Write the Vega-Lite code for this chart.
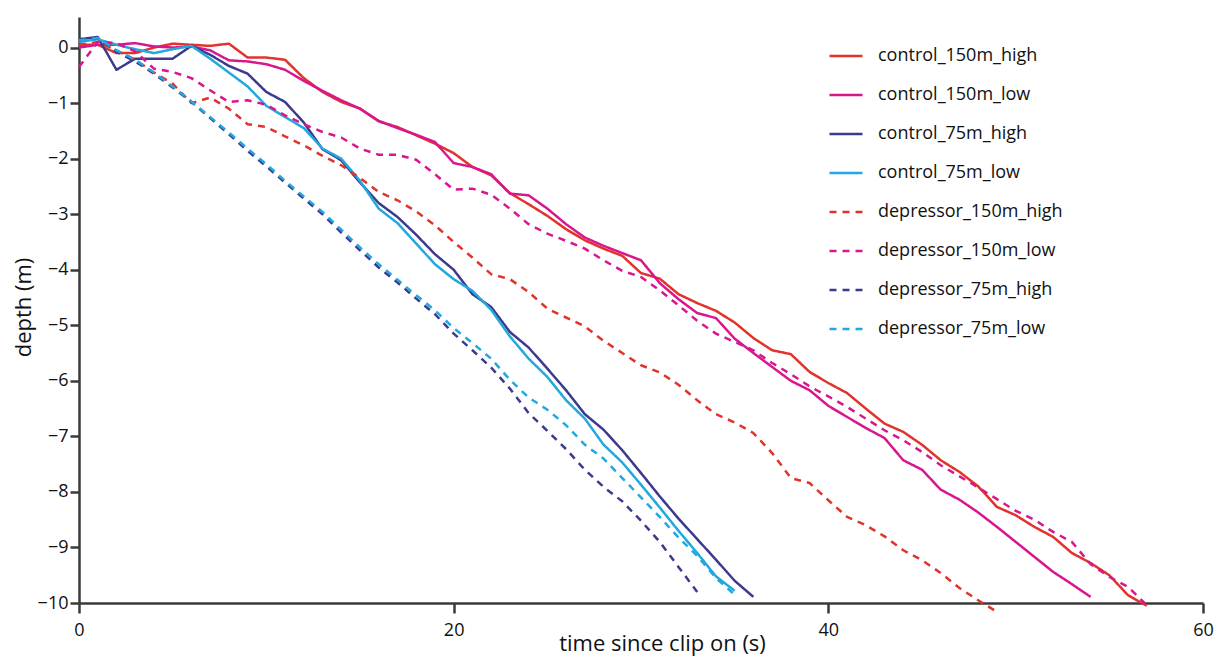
{
  "$schema": "https://vega.github.io/schema/vega-lite/v6.json",
  "width": 1124,
  "height": 586,
  "autosize": {"type": "none"},
  "padding": {"left": 79, "top": 17, "right": 12, "bottom": 54},
  "background": "white",
  "config": {
    "view": {"stroke": null},
    "font": "Open Sans",
    "axis": {"domainColor": "#3a3a3a", "domainWidth": 2.5, "tickColor": "#3a3a3a", "tickWidth": 2.5, "grid": false, "labelColor": "#111", "titleColor": "#111", "labelFont": "Open Sans", "titleFont": "Open Sans", "titleFontWeight": "normal"}
  },
  "datasets": {
    "rows": [
      {"s":"control_150m_high","t":0,"d":0.05},{"s":"control_150m_high","t":1,"d":0.05},{"s":"control_150m_high","t":2,"d":-0.1},{"s":"control_150m_high","t":3,"d":-0.1},{"s":"control_150m_high","t":4,"d":0.0},{"s":"control_150m_high","t":5,"d":0.07},{"s":"control_150m_high","t":6,"d":0.05},{"s":"control_150m_high","t":7,"d":0.03},{"s":"control_150m_high","t":8,"d":0.07},{"s":"control_150m_high","t":9,"d":-0.18},{"s":"control_150m_high","t":10,"d":-0.18},{"s":"control_150m_high","t":11,"d":-0.22},{"s":"control_150m_high","t":12,"d":-0.55},{"s":"control_150m_high","t":13,"d":-0.8},{"s":"control_150m_high","t":14,"d":-0.98},{"s":"control_150m_high","t":15,"d":-1.1},{"s":"control_150m_high","t":16,"d":-1.33},{"s":"control_150m_high","t":17,"d":-1.43},{"s":"control_150m_high","t":18,"d":-1.58},{"s":"control_150m_high","t":19,"d":-1.73},{"s":"control_150m_high","t":20,"d":-1.9},{"s":"control_150m_high","t":21,"d":-2.15},{"s":"control_150m_high","t":22,"d":-2.3},{"s":"control_150m_high","t":23,"d":-2.62},{"s":"control_150m_high","t":24,"d":-2.82},{"s":"control_150m_high","t":25,"d":-3.03},{"s":"control_150m_high","t":26,"d":-3.27},{"s":"control_150m_high","t":27,"d":-3.47},{"s":"control_150m_high","t":28,"d":-3.62},{"s":"control_150m_high","t":29,"d":-3.75},{"s":"control_150m_high","t":30,"d":-4.06},{"s":"control_150m_high","t":31,"d":-4.16},{"s":"control_150m_high","t":32,"d":-4.44},{"s":"control_150m_high","t":33,"d":-4.6},{"s":"control_150m_high","t":34,"d":-4.74},{"s":"control_150m_high","t":35,"d":-4.95},{"s":"control_150m_high","t":36,"d":-5.23},{"s":"control_150m_high","t":37,"d":-5.45},{"s":"control_150m_high","t":38,"d":-5.52},{"s":"control_150m_high","t":39,"d":-5.84},{"s":"control_150m_high","t":40,"d":-6.04},{"s":"control_150m_high","t":41,"d":-6.22},{"s":"control_150m_high","t":42,"d":-6.5},{"s":"control_150m_high","t":43,"d":-6.77},{"s":"control_150m_high","t":44,"d":-6.92},{"s":"control_150m_high","t":45,"d":-7.15},{"s":"control_150m_high","t":46,"d":-7.43},{"s":"control_150m_high","t":47,"d":-7.64},{"s":"control_150m_high","t":48,"d":-7.9},{"s":"control_150m_high","t":49,"d":-8.27},{"s":"control_150m_high","t":50,"d":-8.42},{"s":"control_150m_high","t":51,"d":-8.63},{"s":"control_150m_high","t":52,"d":-8.81},{"s":"control_150m_high","t":53,"d":-9.1},{"s":"control_150m_high","t":54,"d":-9.28},{"s":"control_150m_high","t":55,"d":-9.5},{"s":"control_150m_high","t":56,"d":-9.86},{"s":"control_150m_high","t":57,"d":-10.05},
      {"s":"control_150m_low","t":0,"d":0.0},{"s":"control_150m_low","t":1,"d":0.05},{"s":"control_150m_low","t":2,"d":0.05},{"s":"control_150m_low","t":3,"d":0.08},{"s":"control_150m_low","t":4,"d":0.02},{"s":"control_150m_low","t":5,"d":0.0},{"s":"control_150m_low","t":6,"d":0.02},{"s":"control_150m_low","t":7,"d":-0.05},{"s":"control_150m_low","t":8,"d":-0.23},{"s":"control_150m_low","t":9,"d":-0.25},{"s":"control_150m_low","t":10,"d":-0.3},{"s":"control_150m_low","t":11,"d":-0.4},{"s":"control_150m_low","t":12,"d":-0.6},{"s":"control_150m_low","t":13,"d":-0.78},{"s":"control_150m_low","t":14,"d":-0.95},{"s":"control_150m_low","t":15,"d":-1.1},{"s":"control_150m_low","t":16,"d":-1.32},{"s":"control_150m_low","t":17,"d":-1.45},{"s":"control_150m_low","t":18,"d":-1.57},{"s":"control_150m_low","t":19,"d":-1.7},{"s":"control_150m_low","t":20,"d":-2.08},{"s":"control_150m_low","t":21,"d":-2.15},{"s":"control_150m_low","t":22,"d":-2.28},{"s":"control_150m_low","t":23,"d":-2.63},{"s":"control_150m_low","t":24,"d":-2.66},{"s":"control_150m_low","t":25,"d":-2.9},{"s":"control_150m_low","t":26,"d":-3.18},{"s":"control_150m_low","t":27,"d":-3.42},{"s":"control_150m_low","t":28,"d":-3.57},{"s":"control_150m_low","t":29,"d":-3.7},{"s":"control_150m_low","t":30,"d":-3.83},{"s":"control_150m_low","t":31,"d":-4.24},{"s":"control_150m_low","t":32,"d":-4.53},{"s":"control_150m_low","t":33,"d":-4.78},{"s":"control_150m_low","t":34,"d":-4.87},{"s":"control_150m_low","t":35,"d":-5.24},{"s":"control_150m_low","t":36,"d":-5.5},{"s":"control_150m_low","t":37,"d":-5.75},{"s":"control_150m_low","t":38,"d":-6.0},{"s":"control_150m_low","t":39,"d":-6.17},{"s":"control_150m_low","t":40,"d":-6.45},{"s":"control_150m_low","t":41,"d":-6.65},{"s":"control_150m_low","t":42,"d":-6.85},{"s":"control_150m_low","t":43,"d":-7.03},{"s":"control_150m_low","t":44,"d":-7.43},{"s":"control_150m_low","t":45,"d":-7.6},{"s":"control_150m_low","t":46,"d":-7.96},{"s":"control_150m_low","t":47,"d":-8.14},{"s":"control_150m_low","t":48,"d":-8.37},{"s":"control_150m_low","t":49,"d":-8.63},{"s":"control_150m_low","t":50,"d":-8.9},{"s":"control_150m_low","t":51,"d":-9.17},{"s":"control_150m_low","t":52,"d":-9.44},{"s":"control_150m_low","t":53,"d":-9.66},{"s":"control_150m_low","t":54,"d":-9.89},
      {"s":"control_75m_high","t":0,"d":0.15},{"s":"control_75m_high","t":1,"d":0.19},{"s":"control_75m_high","t":2,"d":-0.4},{"s":"control_75m_high","t":3,"d":-0.2},{"s":"control_75m_high","t":4,"d":-0.2},{"s":"control_75m_high","t":5,"d":-0.2},{"s":"control_75m_high","t":6,"d":0.03},{"s":"control_75m_high","t":7,"d":-0.13},{"s":"control_75m_high","t":8,"d":-0.33},{"s":"control_75m_high","t":9,"d":-0.47},{"s":"control_75m_high","t":10,"d":-0.8},{"s":"control_75m_high","t":11,"d":-0.98},{"s":"control_75m_high","t":12,"d":-1.35},{"s":"control_75m_high","t":13,"d":-1.83},{"s":"control_75m_high","t":14,"d":-2.03},{"s":"control_75m_high","t":15,"d":-2.43},{"s":"control_75m_high","t":16,"d":-2.8},{"s":"control_75m_high","t":17,"d":-3.05},{"s":"control_75m_high","t":18,"d":-3.37},{"s":"control_75m_high","t":19,"d":-3.72},{"s":"control_75m_high","t":20,"d":-4.0},{"s":"control_75m_high","t":21,"d":-4.44},{"s":"control_75m_high","t":22,"d":-4.67},{"s":"control_75m_high","t":23,"d":-5.12},{"s":"control_75m_high","t":24,"d":-5.4},{"s":"control_75m_high","t":25,"d":-5.78},{"s":"control_75m_high","t":26,"d":-6.17},{"s":"control_75m_high","t":27,"d":-6.6},{"s":"control_75m_high","t":28,"d":-6.88},{"s":"control_75m_high","t":29,"d":-7.25},{"s":"control_75m_high","t":30,"d":-7.66},{"s":"control_75m_high","t":31,"d":-8.08},{"s":"control_75m_high","t":32,"d":-8.48},{"s":"control_75m_high","t":33,"d":-8.85},{"s":"control_75m_high","t":34,"d":-9.22},{"s":"control_75m_high","t":35,"d":-9.6},{"s":"control_75m_high","t":36,"d":-9.89},
      {"s":"control_75m_low","t":0,"d":0.1},{"s":"control_75m_low","t":1,"d":0.15},{"s":"control_75m_low","t":2,"d":0.05},{"s":"control_75m_low","t":3,"d":-0.03},{"s":"control_75m_low","t":4,"d":-0.1},{"s":"control_75m_low","t":5,"d":-0.03},{"s":"control_75m_low","t":6,"d":0.03},{"s":"control_75m_low","t":7,"d":-0.2},{"s":"control_75m_low","t":8,"d":-0.45},{"s":"control_75m_low","t":9,"d":-0.7},{"s":"control_75m_low","t":10,"d":-1.05},{"s":"control_75m_low","t":11,"d":-1.25},{"s":"control_75m_low","t":12,"d":-1.45},{"s":"control_75m_low","t":13,"d":-1.82},{"s":"control_75m_low","t":14,"d":-2.0},{"s":"control_75m_low","t":15,"d":-2.4},{"s":"control_75m_low","t":16,"d":-2.9},{"s":"control_75m_low","t":17,"d":-3.16},{"s":"control_75m_low","t":18,"d":-3.53},{"s":"control_75m_low","t":19,"d":-3.9},{"s":"control_75m_low","t":20,"d":-4.17},{"s":"control_75m_low","t":21,"d":-4.38},{"s":"control_75m_low","t":22,"d":-4.72},{"s":"control_75m_low","t":23,"d":-5.2},{"s":"control_75m_low","t":24,"d":-5.6},{"s":"control_75m_low","t":25,"d":-5.93},{"s":"control_75m_low","t":26,"d":-6.35},{"s":"control_75m_low","t":27,"d":-6.68},{"s":"control_75m_low","t":28,"d":-7.15},{"s":"control_75m_low","t":29,"d":-7.47},{"s":"control_75m_low","t":30,"d":-7.87},{"s":"control_75m_low","t":31,"d":-8.28},{"s":"control_75m_low","t":32,"d":-8.7},{"s":"control_75m_low","t":33,"d":-9.1},{"s":"control_75m_low","t":34,"d":-9.52},{"s":"control_75m_low","t":35,"d":-9.78},
      {"s":"depressor_150m_high","t":0,"d":0.05},{"s":"depressor_150m_high","t":1,"d":0.1},{"s":"depressor_150m_high","t":2,"d":-0.05},{"s":"depressor_150m_high","t":3,"d":-0.22},{"s":"depressor_150m_high","t":4,"d":-0.45},{"s":"depressor_150m_high","t":5,"d":-0.65},{"s":"depressor_150m_high","t":6,"d":-1.0},{"s":"depressor_150m_high","t":7,"d":-0.9},{"s":"depressor_150m_high","t":8,"d":-1.1},{"s":"depressor_150m_high","t":9,"d":-1.38},{"s":"depressor_150m_high","t":10,"d":-1.43},{"s":"depressor_150m_high","t":11,"d":-1.6},{"s":"depressor_150m_high","t":12,"d":-1.76},{"s":"depressor_150m_high","t":13,"d":-1.95},{"s":"depressor_150m_high","t":14,"d":-2.12},{"s":"depressor_150m_high","t":15,"d":-2.35},{"s":"depressor_150m_high","t":16,"d":-2.6},{"s":"depressor_150m_high","t":17,"d":-2.75},{"s":"depressor_150m_high","t":18,"d":-2.95},{"s":"depressor_150m_high","t":19,"d":-3.2},{"s":"depressor_150m_high","t":20,"d":-3.5},{"s":"depressor_150m_high","t":21,"d":-3.78},{"s":"depressor_150m_high","t":22,"d":-4.08},{"s":"depressor_150m_high","t":23,"d":-4.17},{"s":"depressor_150m_high","t":24,"d":-4.4},{"s":"depressor_150m_high","t":25,"d":-4.7},{"s":"depressor_150m_high","t":26,"d":-4.86},{"s":"depressor_150m_high","t":27,"d":-5.02},{"s":"depressor_150m_high","t":28,"d":-5.28},{"s":"depressor_150m_high","t":29,"d":-5.5},{"s":"depressor_150m_high","t":30,"d":-5.72},{"s":"depressor_150m_high","t":31,"d":-5.85},{"s":"depressor_150m_high","t":32,"d":-6.07},{"s":"depressor_150m_high","t":33,"d":-6.35},{"s":"depressor_150m_high","t":34,"d":-6.6},{"s":"depressor_150m_high","t":35,"d":-6.75},{"s":"depressor_150m_high","t":36,"d":-6.94},{"s":"depressor_150m_high","t":37,"d":-7.3},{"s":"depressor_150m_high","t":38,"d":-7.75},{"s":"depressor_150m_high","t":39,"d":-7.84},{"s":"depressor_150m_high","t":40,"d":-8.15},{"s":"depressor_150m_high","t":41,"d":-8.45},{"s":"depressor_150m_high","t":42,"d":-8.6},{"s":"depressor_150m_high","t":43,"d":-8.8},{"s":"depressor_150m_high","t":44,"d":-9.05},{"s":"depressor_150m_high","t":45,"d":-9.23},{"s":"depressor_150m_high","t":46,"d":-9.46},{"s":"depressor_150m_high","t":47,"d":-9.73},{"s":"depressor_150m_high","t":48,"d":-9.95},{"s":"depressor_150m_high","t":49,"d":-10.16},
      {"s":"depressor_150m_low","t":0,"d":-0.35},{"s":"depressor_150m_low","t":1,"d":0.1},{"s":"depressor_150m_low","t":2,"d":0.08},{"s":"depressor_150m_low","t":3,"d":-0.07},{"s":"depressor_150m_low","t":4,"d":-0.38},{"s":"depressor_150m_low","t":5,"d":-0.44},{"s":"depressor_150m_low","t":6,"d":-0.55},{"s":"depressor_150m_low","t":7,"d":-0.77},{"s":"depressor_150m_low","t":8,"d":-0.98},{"s":"depressor_150m_low","t":9,"d":-0.95},{"s":"depressor_150m_low","t":10,"d":-1.03},{"s":"depressor_150m_low","t":11,"d":-1.22},{"s":"depressor_150m_low","t":12,"d":-1.38},{"s":"depressor_150m_low","t":13,"d":-1.52},{"s":"depressor_150m_low","t":14,"d":-1.62},{"s":"depressor_150m_low","t":15,"d":-1.82},{"s":"depressor_150m_low","t":16,"d":-1.93},{"s":"depressor_150m_low","t":17,"d":-1.93},{"s":"depressor_150m_low","t":18,"d":-2.02},{"s":"depressor_150m_low","t":19,"d":-2.28},{"s":"depressor_150m_low","t":20,"d":-2.56},{"s":"depressor_150m_low","t":21,"d":-2.54},{"s":"depressor_150m_low","t":22,"d":-2.65},{"s":"depressor_150m_low","t":23,"d":-2.9},{"s":"depressor_150m_low","t":24,"d":-3.18},{"s":"depressor_150m_low","t":25,"d":-3.35},{"s":"depressor_150m_low","t":26,"d":-3.48},{"s":"depressor_150m_low","t":27,"d":-3.62},{"s":"depressor_150m_low","t":28,"d":-3.83},{"s":"depressor_150m_low","t":29,"d":-4.02},{"s":"depressor_150m_low","t":30,"d":-4.13},{"s":"depressor_150m_low","t":31,"d":-4.37},{"s":"depressor_150m_low","t":32,"d":-4.64},{"s":"depressor_150m_low","t":33,"d":-4.92},{"s":"depressor_150m_low","t":34,"d":-5.15},{"s":"depressor_150m_low","t":35,"d":-5.3},{"s":"depressor_150m_low","t":36,"d":-5.45},{"s":"depressor_150m_low","t":37,"d":-5.68},{"s":"depressor_150m_low","t":38,"d":-5.88},{"s":"depressor_150m_low","t":39,"d":-6.1},{"s":"depressor_150m_low","t":40,"d":-6.28},{"s":"depressor_150m_low","t":41,"d":-6.47},{"s":"depressor_150m_low","t":42,"d":-6.68},{"s":"depressor_150m_low","t":43,"d":-6.89},{"s":"depressor_150m_low","t":44,"d":-7.07},{"s":"depressor_150m_low","t":45,"d":-7.28},{"s":"depressor_150m_low","t":46,"d":-7.52},{"s":"depressor_150m_low","t":47,"d":-7.72},{"s":"depressor_150m_low","t":48,"d":-7.92},{"s":"depressor_150m_low","t":49,"d":-8.13},{"s":"depressor_150m_low","t":50,"d":-8.34},{"s":"depressor_150m_low","t":51,"d":-8.5},{"s":"depressor_150m_low","t":52,"d":-8.72},{"s":"depressor_150m_low","t":53,"d":-8.9},{"s":"depressor_150m_low","t":54,"d":-9.3},{"s":"depressor_150m_low","t":55,"d":-9.53},{"s":"depressor_150m_low","t":56,"d":-9.71},{"s":"depressor_150m_low","t":57,"d":-10.04},
      {"s":"depressor_75m_high","t":0,"d":0.13},{"s":"depressor_75m_high","t":1,"d":0.17},{"s":"depressor_75m_high","t":2,"d":-0.08},{"s":"depressor_75m_high","t":3,"d":-0.25},{"s":"depressor_75m_high","t":4,"d":-0.47},{"s":"depressor_75m_high","t":5,"d":-0.72},{"s":"depressor_75m_high","t":6,"d":-0.98},{"s":"depressor_75m_high","t":7,"d":-1.27},{"s":"depressor_75m_high","t":8,"d":-1.56},{"s":"depressor_75m_high","t":9,"d":-1.86},{"s":"depressor_75m_high","t":10,"d":-2.14},{"s":"depressor_75m_high","t":11,"d":-2.43},{"s":"depressor_75m_high","t":12,"d":-2.72},{"s":"depressor_75m_high","t":13,"d":-3.0},{"s":"depressor_75m_high","t":14,"d":-3.33},{"s":"depressor_75m_high","t":15,"d":-3.65},{"s":"depressor_75m_high","t":16,"d":-3.96},{"s":"depressor_75m_high","t":17,"d":-4.23},{"s":"depressor_75m_high","t":18,"d":-4.52},{"s":"depressor_75m_high","t":19,"d":-4.8},{"s":"depressor_75m_high","t":20,"d":-5.15},{"s":"depressor_75m_high","t":21,"d":-5.45},{"s":"depressor_75m_high","t":22,"d":-5.76},{"s":"depressor_75m_high","t":23,"d":-6.14},{"s":"depressor_75m_high","t":24,"d":-6.58},{"s":"depressor_75m_high","t":25,"d":-6.9},{"s":"depressor_75m_high","t":26,"d":-7.23},{"s":"depressor_75m_high","t":27,"d":-7.6},{"s":"depressor_75m_high","t":28,"d":-7.91},{"s":"depressor_75m_high","t":29,"d":-8.17},{"s":"depressor_75m_high","t":30,"d":-8.52},{"s":"depressor_75m_high","t":31,"d":-8.9},{"s":"depressor_75m_high","t":32,"d":-9.35},{"s":"depressor_75m_high","t":33,"d":-9.8},
      {"s":"depressor_75m_low","t":0,"d":0.13},{"s":"depressor_75m_low","t":1,"d":0.17},{"s":"depressor_75m_low","t":2,"d":-0.05},{"s":"depressor_75m_low","t":3,"d":-0.22},{"s":"depressor_75m_low","t":4,"d":-0.45},{"s":"depressor_75m_low","t":5,"d":-0.7},{"s":"depressor_75m_low","t":6,"d":-0.97},{"s":"depressor_75m_low","t":7,"d":-1.25},{"s":"depressor_75m_low","t":8,"d":-1.53},{"s":"depressor_75m_low","t":9,"d":-1.82},{"s":"depressor_75m_low","t":10,"d":-2.1},{"s":"depressor_75m_low","t":11,"d":-2.4},{"s":"depressor_75m_low","t":12,"d":-2.68},{"s":"depressor_75m_low","t":13,"d":-2.96},{"s":"depressor_75m_low","t":14,"d":-3.28},{"s":"depressor_75m_low","t":15,"d":-3.6},{"s":"depressor_75m_low","t":16,"d":-3.9},{"s":"depressor_75m_low","t":17,"d":-4.18},{"s":"depressor_75m_low","t":18,"d":-4.46},{"s":"depressor_75m_low","t":19,"d":-4.73},{"s":"depressor_75m_low","t":20,"d":-5.05},{"s":"depressor_75m_low","t":21,"d":-5.32},{"s":"depressor_75m_low","t":22,"d":-5.6},{"s":"depressor_75m_low","t":23,"d":-5.98},{"s":"depressor_75m_low","t":24,"d":-6.3},{"s":"depressor_75m_low","t":25,"d":-6.52},{"s":"depressor_75m_low","t":26,"d":-6.8},{"s":"depressor_75m_low","t":27,"d":-7.15},{"s":"depressor_75m_low","t":28,"d":-7.4},{"s":"depressor_75m_low","t":29,"d":-7.75},{"s":"depressor_75m_low","t":30,"d":-8.1},{"s":"depressor_75m_low","t":31,"d":-8.45},{"s":"depressor_75m_low","t":32,"d":-8.82},{"s":"depressor_75m_low","t":33,"d":-9.15},{"s":"depressor_75m_low","t":34,"d":-9.55},{"s":"depressor_75m_low","t":35,"d":-9.85}
    ]
  },
  "data": {"name": "rows"},
  "mark": {"type": "line", "strokeWidth": 2.5, "strokeCap": "butt", "strokeJoin": "round"},
  "encoding": {
    "x": {
      "field": "t", "type": "quantitative",
      "scale": {"domain": [0, 60], "nice": false, "zero": false},
      "axis": {"values": [0, 20, 40, 60], "title": "time since clip on (s)", "tickSize": 10, "labelFontSize": 18, "labelPadding": 8, "titleFontSize": 22, "titleX": 583, "titleY": 47, "titleBaseline": "alphabetic", "titleAlign": "center", "labelFlush": false}
    },
    "y": {
      "field": "d", "type": "quantitative",
      "scale": {"domain": [-10, 0.55], "nice": false, "zero": false},
      "axis": {"values": [-10, -9, -8, -7, -6, -5, -4, -3, -2, -1, 0], "title": "depth (m)", "tickSize": 9, "labelFontSize": 18, "labelPadding": 2, "titleFontSize": 22, "titleX": -56, "titleY": 290, "titleAngle": -90, "titleAlign": "center", "titleBaseline": "middle", "labelFlush": false}
    },
    "color": {
      "field": "s", "type": "nominal",
      "scale": {
        "domain": ["control_150m_high", "control_150m_low", "control_75m_high", "control_75m_low", "depressor_150m_high", "depressor_150m_low", "depressor_75m_high", "depressor_75m_low"],
        "range": ["#e1332b", "#d8178f", "#3b3a8d", "#22a8df", "#e1332b", "#d8178f", "#3b3a8d", "#22a8df"]
      },
      "legend": {"title": null, "orient": "none", "legendX": 749, "legendY": 21, "symbolType": "stroke", "symbolSize": 1089, "symbolStrokeWidth": 2.5, "labelFontSize": 18, "labelOffset": 14, "labelLimit": 0, "rowPadding": 12, "padding": 0, "labelColor": "#111", "labelFont": "Open Sans"}
    },
    "strokeDash": {
      "field": "s", "type": "nominal",
      "scale": {
        "domain": ["control_150m_high", "control_150m_low", "control_75m_high", "control_75m_low", "depressor_150m_high", "depressor_150m_low", "depressor_75m_high", "depressor_75m_low"],
        "range": [[1, 0], [1, 0], [1, 0], [1, 0], [7, 6], [7, 6], [7, 6], [7, 6]]
      },
      "legend": {"title": null, "orient": "none", "legendX": 749, "legendY": 21, "symbolType": "stroke", "symbolSize": 1089, "symbolStrokeWidth": 2.5, "labelFontSize": 18, "labelOffset": 14, "labelLimit": 0, "rowPadding": 12, "padding": 0, "labelColor": "#111", "labelFont": "Open Sans"}
    }
  }
}
